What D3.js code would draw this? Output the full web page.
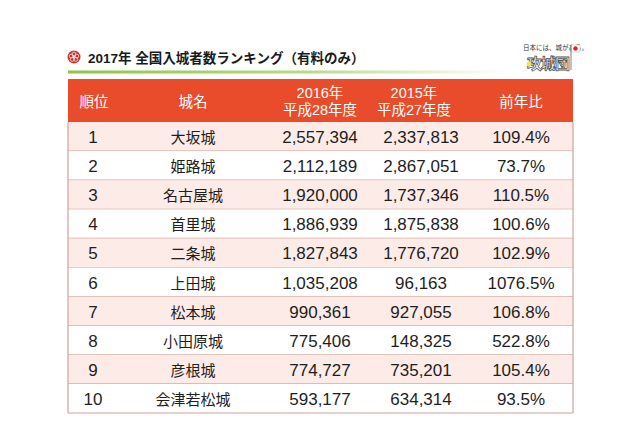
<!DOCTYPE html>
<html>
<head>
<meta charset="utf-8">
<script src="https://cdn.jsdelivr.net/npm/d3@7"></script>
<style>
  html, body { margin: 0; padding: 0; background: #ffffff; }
  svg { display: block; }
</style>
</head>
<body>
<svg id="chart" width="640" height="426"></svg>
<script>
// ---- data ----
const title = "2017年 全国入城者数ランキング（有料のみ）";
const ranks = [1, 2, 3, 4, 5, 6, 7, 8, 9, 10];
const castles = ["大坂城", "姫路城", "名古屋城", "首里城", "二条城", "上田城", "松本城", "小田原城", "彦根城", "会津若松城"];
const visitors2016 = [2557394, 2112189, 1920000, 1886939, 1827843, 1035208, 990361, 775406, 774727, 593177];
const visitors2015 = [2337813, 2867051, 1737346, 1875838, 1776720, 96163, 927055, 148325, 735201, 634314];
const yoyPercent = [109.4, 73.7, 110.5, 100.6, 102.9, 1076.5, 106.8, 522.8, 105.4, 93.5];
const columnKeys = ["rank", "name", "v2016", "v2015", "yoy"];
const headerLabels = [["順位"], ["城名"], ["2016年", "平成28年度"], ["2015年", "平成27年度"], ["前年比"]];
const logoCaption = "日本には、城がある。";
const logoName = "攻城団";

// ---- layout ----
const svg = d3.select("#chart");
const tableLeft = 68, tableRight = 573;
const headerTop = 79, headerBottom = 122, tableBottom = 413;
const FONT = "'Liberation Sans', 'Noto Sans CJK JP', sans-serif";

const y = d3.scaleBand().domain(ranks).range([headerBottom, tableBottom]).padding(0);
const xCell = d3.scaleOrdinal().domain(columnKeys).range([93, 193, 320, 421, 521]);
const xHead = d3.scaleOrdinal().domain(columnKeys).range([94, 193, 320, 414, 521]);
const fmt = d3.format(",");

const rows = ranks.map((r, i) => ({
  rank: r,
  name: castles[i],
  v2016: visitors2016[i],
  v2015: visitors2015[i],
  yoy: yoyPercent[i]
}));

// ---- title ----
const defs = svg.append("defs");
const grad = defs.append("linearGradient").attr("id", "greenFade").attr("x1", "0%").attr("x2", "100%");
grad.append("stop").attr("offset", "0%").attr("stop-color", "#8cc63e");
grad.append("stop").attr("offset", "55%").attr("stop-color", "#b6dc86");
grad.append("stop").attr("offset", "100%").attr("stop-color", "#ffffff");
svg.append("rect").attr("x", 68).attr("y", 70.5).attr("width", 440).attr("height", 3).attr("fill", "url(#greenFade)");

// crest icon
const crest = svg.append("g").attr("transform", "translate(74,57)");
crest.append("circle").attr("r", 6.5).attr("fill", "#c8332b");
d3.range(5).forEach(k => {
  const a = k * 2 * Math.PI / 5 - Math.PI / 2;
  crest.append("circle").attr("cx", 3 * Math.cos(a)).attr("cy", 3 * Math.sin(a)).attr("r", 1.9)
    .attr("fill", "none").attr("stroke", "#f6d5d0").attr("stroke-width", 0.9);
});
crest.append("circle").attr("r", 1.4).attr("fill", "#f6d5d0");

svg.append("text").attr("x", 88).attr("y", 62.5)
  .attr("font-family", FONT).attr("font-weight", "bold").attr("font-size", 13.5)
  .attr("fill", "#1a1a1a").text(title);

// logo (top right)
const logo = svg.append("g");
logo.append("text").attr("x", 523).attr("y", 50).attr("font-family", "'Noto Sans CJK JP', sans-serif")
  .attr("font-size", 6.5).attr("fill", "#333").text(logoCaption);
logo.append("text").attr("x", 527).attr("y", 69).attr("font-family", "'Noto Sans CJK JP', sans-serif")
  .attr("font-size", 15).attr("font-weight", "bold").attr("fill", "#ffffff")
  .attr("stroke", "#555").attr("stroke-width", 0.8).attr("letter-spacing", -1).text(logoName);
logo.append("rect").attr("x", 571).attr("y", 45).attr("width", 9).attr("height", 7).attr("fill", "#fff").attr("stroke", "#bbb").attr("stroke-width", 0.5);
logo.append("circle").attr("cx", 575.5).attr("cy", 48.5).attr("r", 2.2).attr("fill", "#d8262c");
logo.append("line").attr("x1", 571).attr("x2", 571).attr("y1", 45).attr("y2", 70).attr("stroke", "#666").attr("stroke-width", 0.8);
logo.append("circle").attr("cx", 529).attr("cy", 64).attr("r", 2.5).attr("fill", "#f2e35a");

// ---- header ----
svg.append("rect").attr("x", tableLeft).attr("y", headerTop)
  .attr("width", tableRight - tableLeft).attr("height", headerBottom - headerTop).attr("fill", "#e84c2a");

const headG = svg.append("g").attr("font-family", FONT).attr("font-size", 14.5).attr("fill", "#ffffff").attr("text-anchor", "middle");
columnKeys.forEach((k, i) => {
  const lines = headerLabels[i];
  const cy = (headerTop + headerBottom) / 2 + 1;
  const lh = 16.5;
  lines.forEach((ln, j) => {
    headG.append("text").attr("x", xHead(k))
      .attr("y", cy + (j - (lines.length - 1) / 2) * lh)
      .attr("dominant-baseline", "central").text(ln);
  });
});

// ---- body rows ----
const rowG = svg.append("g").selectAll("g.row").data(rows).join("g").attr("class", "row")
  .attr("transform", d => `translate(0,${y(d.rank)})`);

rowG.append("rect").attr("x", tableLeft).attr("y", 0)
  .attr("width", tableRight - tableLeft).attr("height", y.bandwidth())
  .attr("fill", (d, i) => i % 2 === 0 ? "#fcebe7" : "#ffffff");

rowG.append("line").attr("x1", tableLeft).attr("x2", tableRight)
  .attr("y1", y.bandwidth()).attr("y2", y.bandwidth())
  .attr("stroke", "#cfa29c").attr("stroke-width", 1.2);

const cellText = (sel, key, value, size) => sel.append("text")
  .attr("x", xCell(key)).attr("y", y.bandwidth() / 2 + 1)
  .attr("dominant-baseline", "central").attr("text-anchor", "middle")
  .attr("font-family", FONT).attr("font-size", size).attr("fill", "#1e1e1e")
  .text(value);

rowG.each(function(d) {
  const g = d3.select(this);
  cellText(g, "rank", d.rank, 17);
  cellText(g, "name", d.name, 15);
  cellText(g, "v2016", fmt(d.v2016), 17);
  cellText(g, "v2015", fmt(d.v2015), 17);
  cellText(g, "yoy", d.yoy.toFixed(1) + "%", 17);
});

// table side borders
svg.append("line").attr("x1", tableLeft).attr("x2", tableLeft).attr("y1", headerBottom).attr("y2", tableBottom)
  .attr("stroke", "#cfa29c").attr("stroke-width", 1.2);
svg.append("line").attr("x1", tableRight).attr("x2", tableRight).attr("y1", headerBottom).attr("y2", tableBottom)
  .attr("stroke", "#cfa29c").attr("stroke-width", 1.2);
</script>
</body>
</html>
